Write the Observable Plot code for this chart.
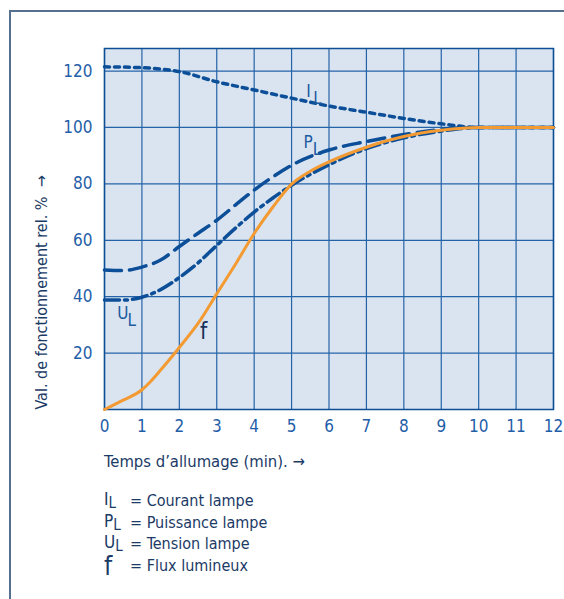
<!DOCTYPE html>
<html><head><meta charset="utf-8">
<script src="https://cdn.jsdelivr.net/npm/d3@7"></script>
<script src="https://cdn.jsdelivr.net/npm/@observablehq/plot@0.6"></script>
<style>
body{margin:0;background:#fff;}
#wrap{position:relative;width:564px;height:599px;overflow:hidden;font-family:"Liberation Sans Narrow","DejaVu Sans Condensed",Roboto,sans-serif;}
#border{position:absolute;left:9px;top:10px;width:700px;height:700px;border-left:2px solid #56708f;border-top:2px solid #56708f;}
#chart{position:absolute;left:0;top:0;}
#xtitle{position:absolute;left:104px;top:452px;font-size:16.5px;color:#1b3a66;white-space:nowrap;}
#legend{position:absolute;left:104px;top:492px;font-size:16px;color:#1b3a66;}
#legend .row{position:relative;height:21.7px;white-space:nowrap;line-height:18px;}
#legend .sym{position:relative;top:-2px;font-size:17px;}
#legend .sub{position:relative;top:1px;font-size:15px;}
#legend .txt{position:absolute;left:26px;top:0;}
</style></head>
<body>
<div id="wrap">
  <div id="border"></div>
  <div id="chart"></div>
  <div id="xtitle"></div>
  <div id="legend"></div>
</div>
<script>
// ---- data ----
const xTicks = [0,1,2,3,4,5,6,7,8,9,10,11,12];
const yTicks = [20,40,60,80,100,120];

const courantX = [0,1,1.5,2,3,4,5,6,7,8,9,10,11,12];
const courantY = [121.5,121.2,120.7,119.8,116.2,113.3,110.4,107.6,105.4,103.2,101.3,100,100,100];

const puissanceX = [0,0.5,1,1.5,2,2.5,3,3.5,4,4.5,5,6,7,8,9,10,11,12];
const puissanceY = [49.5,49.3,50.5,53,57.8,62.5,67.1,72.5,77.8,82.5,86.6,92,95,97.5,99.3,100,100,100];

const tensionX = [0,0.5,1,1.5,2,2.5,3,3.5,4,4.5,5,6,7,8,9,10,11,12];
const tensionY = [38.8,38.8,39.8,42.5,46.8,52,58.2,64.3,70,75,79.5,86.8,92.5,96.3,98.7,100,100,100];

const fluxX = [0,0.5,1,1.2,1.5,2,2.5,3,3.5,4,4.5,5,5.5,6,7,8,9,10,11,12];
const fluxY = [0,3.3,7,9.5,14,22,30.5,41,51.5,62.4,71.8,79.9,84.5,87.8,93,96.8,99,100,100,100];

const annoMain = ["I","P","U"];
const annoSub = ["L","L","L"];
const annoX = [5.45,5.44,0.49];
const annoY = [112.9,94.5,34.1];
const fLabel = {x: 2.65, y: 27.5, t: "f"};

const yTitle = "Val. de fonctionnement rel. %  \u2192";
const xTitle = "Temps d\u2019allumage (min).  \u2192";
const legendSym = ["I","P","U","f"];
const legendSub = ["L","L","L",""];
const legendText = ["= Courant lampe","= Puissance lampe","= Tension lampe","= Flux lumineux"];

// ---- build ----
const toRows = (xs, ys) => xs.map((x,i) => ({x, y: ys[i]}));
const courant = toRows(courantX, courantY);
const puissance = toRows(puissanceX, puissanceY);
const tension = toRows(tensionX, tensionY);
const flux = toRows(fluxX, fluxY);
const annos = annoMain.map((m,i) => ({m, s: annoSub[i], x: annoX[i], y: annoY[i]}));

const lineBlue = "#0c4f98";
const gridBlue = "#2563a8";
const tickBlue = "#1f5ea8";
const font = "'Liberation Sans Narrow','DejaVu Sans Condensed',Roboto,sans-serif";

const chart = Plot.plot({
  width: 564,
  height: 480,
  marginLeft: 104,
  marginRight: 11,
  marginTop: 48,
  marginBottom: 71,
  style: {fontFamily: font, fontSize: "17px", color: tickBlue, background: "transparent", overflow: "visible"},
  x: {domain: [0,12]},
  y: {domain: [0,128]},
  marks: [
    Plot.frame({fill: "#d9e4f0", stroke: null}),
    Plot.ruleX(xTicks, {stroke: gridBlue, strokeWidth: 1.2}),
    Plot.ruleY(yTicks, {stroke: gridBlue, strokeWidth: 1.2}),
    Plot.frame({stroke: "#0d4f97", strokeWidth: 1.5}),
    Plot.axisX({ticks: xTicks, tickSize: 0, tickPadding: 10, tickFormat: d => d, label: null}),
    Plot.axisY({ticks: yTicks, tickSize: 0, tickPadding: 12, tickFormat: d => d, label: null}),
    Plot.line(courant, {x: "x", y: "y", curve: "monotone-x", stroke: lineBlue, strokeWidth: 3.5, strokeDasharray: "5,5"}),
    Plot.line(puissance, {x: "x", y: "y", curve: "monotone-x", stroke: lineBlue, strokeWidth: 3.5, strokeDasharray: "17,8"}),
    Plot.line(tension, {x: "x", y: "y", curve: "monotone-x", stroke: lineBlue, strokeWidth: 3.5, strokeDasharray: "15,5,3,5"}),
    Plot.line(flux, {x: "x", y: "y", curve: "monotone-x", stroke: "#f39a32", strokeWidth: 3}),
    Plot.text(annos, {x: "x", y: "y", text: "m", fill: "#1d5aa0", fontSize: 17}),
    Plot.text(annos, {x: "x", y: "y", text: "s", fill: "#1d5aa0", fontSize: 17, dx: 9, dy: 7}),
    Plot.text([fLabel], {x: "x", y: "y", text: "t", fill: "#1a3358", fontSize: 23}),
    Plot.text([yTitle], {frameAnchor: "bottom-left", rotate: -90, textAnchor: "start", dx: -58, dy: 0, fill: "#1b3a66", fontSize: 16})
  ]
});
document.getElementById("chart").appendChild(chart);
document.getElementById("xtitle").textContent = xTitle;

const leg = document.getElementById("legend");
legendSym.forEach((s,i) => {
  const row = document.createElement("div");
  row.className = "row";
  const sym = document.createElement("span");
  sym.className = "sym";
  sym.textContent = s;
  if (s === "f") { sym.style.fontSize = "26px"; sym.style.top = "0px"; }
  const sub = document.createElement("span");
  sub.className = "sub";
  sub.textContent = legendSub[i];
  const txt = document.createElement("span");
  txt.className = "txt";
  txt.textContent = legendText[i];
  row.append(sym, sub, txt);
  leg.appendChild(row);
});
</script>
</body></html>
